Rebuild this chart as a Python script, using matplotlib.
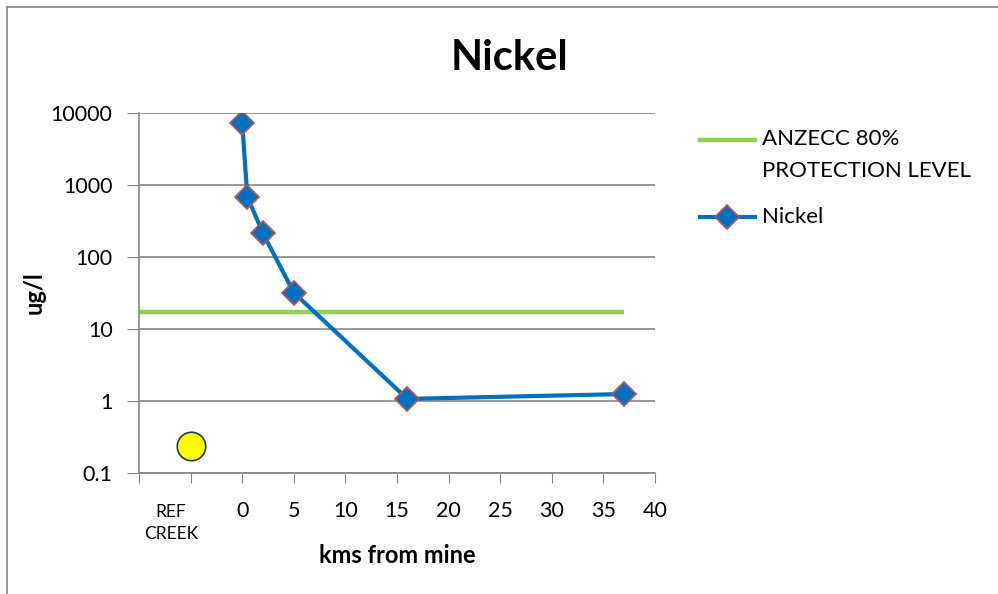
import numpy as np
import matplotlib.pyplot as plt
from matplotlib.lines import Line2D

plt.rcParams['font.family'] = ['Lato', 'DejaVu Sans']

# Nickel concentration downstream of the mine (ug/l)
km_from_mine = [0, 0.5, 2, 5, 16, 37]
nickel_ugl = [7200, 690, 215, 32, 1.07, 1.25]

# ANZECC 80% protection level for nickel
anzecc_x = [-10, 37]
anzecc_level = [17, 17]

# reference creek sample, plotted at x = -5
ref_x = [-5]
ref_nickel = [0.24]

x_ticks = [-10, -5, 0, 5, 10, 15, 20, 25, 30, 35, 40]
x_labels = ['', '', '0', '5', '10', '15', '20', '25', '30', '35', '40']
y_ticks = [0.1, 1, 10, 100, 1000, 10000]
y_labels = ['0.1', '1', '10', '100', '1000', '10000']

C = dict(blue='#0070C0', edge='#C0504D', green='#92D050', yellow='#FFFF00',
         navy='#1F3864', grid='#868686', text='#000000')

fig = plt.figure(figsize=(9.98, 5.94), dpi=100)
fig.patch.set_facecolor('white')
ax = fig.add_axes([139 / 998, 1 - 473 / 594, (655 - 139) / 998, (473 - 113) / 594])

ax.set_yscale('log')
ax.set_xlim(-10, 40)
ax.set_ylim(0.1, 10000)

ax.plot(anzecc_x, anzecc_level, color=C['green'], linewidth=3.2, zorder=2,
        solid_capstyle='butt')
ax.plot(km_from_mine, nickel_ugl, color=C['blue'], linewidth=3, zorder=3,
        marker='D', markersize=12, markerfacecolor=C['blue'],
        markeredgecolor=C['edge'], markeredgewidth=1.2)
ax.scatter(ref_x, ref_nickel, s=420, color=C['yellow'], edgecolor=C['navy'],
           linewidth=1.2, zorder=4)

# axes styling
ax.set_xticks(x_ticks)
ax.set_xticklabels(x_labels)
ax.set_yticks(y_ticks)
ax.set_yticklabels(y_labels)
ax.minorticks_off()
ax.tick_params(axis='y', labelsize=15.5, length=9, color=C['grid'], pad=10)
ax.tick_params(axis='x', labelsize=15.5, length=7, color=C['grid'], pad=13)
for side in ['top', 'right']:
    ax.spines[side].set_visible(False)
for side in ['left', 'bottom']:
    ax.spines[side].set_color(C['grid'])
    ax.spines[side].set_linewidth(1.2)
ax.grid(axis='y', color=C['grid'], linewidth=1.2)
ax.set_axisbelow(True)

# category label under the reference creek tick
ax.annotate('REF\nCREEK', xy=(ref_x[0], 0), xycoords=ax.get_xaxis_transform(),
            xytext=(-14, -22), textcoords='offset points', ha='center',
            va='top', fontsize=12.5, linespacing=1.5)

ax.set_xlabel('kms from mine', fontsize=17, fontweight='bold', labelpad=17)
ax.set_ylabel('ug/l', fontsize=17, fontweight='bold', labelpad=4)
fig.text(510 / 998, 1 - 58 / 594, 'Nickel', fontsize=30, fontweight='bold',
         ha='center', va='center')

# legend
ftr = fig.transFigure
def fx(px):
    return px / 998
def fy(py):
    return 1 - py / 594

fig.add_artist(Line2D([fx(700), fx(755)], [fy(140), fy(140)], color=C['green'],
                      linewidth=3.2, transform=ftr))
fig.text(fx(762), fy(155), 'ANZECC 80%\nPROTECTION LEVEL', fontsize=16,
         ha='left', va='center', linespacing=1.8, transform=ftr)
fig.add_artist(Line2D([fx(700), fx(755)], [fy(217), fy(217)], color=C['blue'],
                      linewidth=3, transform=ftr))
fig.add_artist(Line2D([fx(727)], [fy(217)], marker='D', markersize=12,
                      markerfacecolor=C['blue'], markeredgecolor=C['edge'],
                      markeredgewidth=1.2, linestyle='none', transform=ftr))
fig.text(fx(762), fy(217), 'Nickel', fontsize=16, ha='left', va='center',
         transform=ftr)

# chart area border
fig.add_artist(Line2D([fx(7), fx(7)], [0, fy(7)], color=C['grid'],
                      linewidth=1.2, transform=ftr))
fig.add_artist(Line2D([fx(7), 1], [fy(7), fy(7)], color=C['grid'],
                      linewidth=1.2, transform=ftr))

fig.savefig('out.png', dpi=100, facecolor='white')
